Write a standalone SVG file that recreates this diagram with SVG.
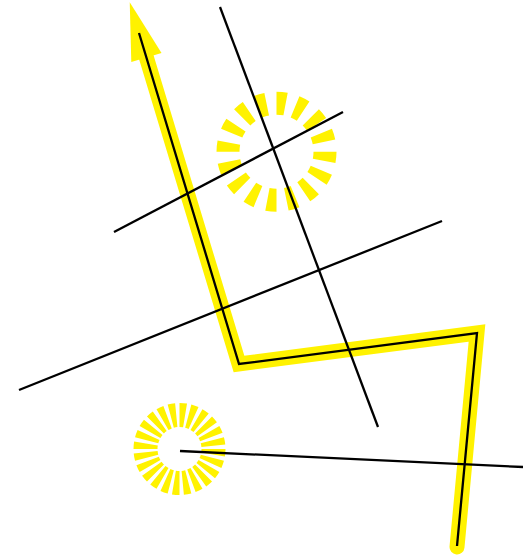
<svg xmlns="http://www.w3.org/2000/svg" width="523" height="555" viewBox="0 0 523 555">
<style>
.hl{fill:none;stroke:#fff200;stroke-width:15;stroke-linecap:round;stroke-linejoin:miter;stroke-miterlimit:10}
.ln{fill:none;stroke:#000;stroke-width:2.3;stroke-linecap:butt}
.ring{fill:none;stroke:#fff200}
</style>
<defs>
<marker id="ah" markerUnits="userSpaceOnUse" markerWidth="60" markerHeight="32" viewBox="-25 -15 56 30" refX="0" refY="0" orient="auto" overflow="visible">
<path d="M-24,-14.8 L30,0 L-24,14.8 Z" fill="#fff200"/>
</marker>
</defs>
<g id="ring1"><circle class="ring" cx="276.5" cy="151.7" r="48.5" stroke-width="23" pathLength="160" stroke-dasharray="4.8 5.2"/></g>
<g id="ring2"><circle class="ring" cx="179.5" cy="449" r="34" stroke-width="24" pathLength="240" stroke-dasharray="6.3 3.7"/></g>
<g id="route">
<polyline class="hl" points="457,547 477,333 239,364 139,33" marker-end="url(#ah)"/>
<polyline class="ln" points="457,546 477,333 239,364 139,33" stroke-linejoin="miter"/>
</g>
<g id="connectors">
<line class="ln" x1="220" y1="7" x2="378" y2="427"/>
<line class="ln" x1="114" y1="232" x2="343" y2="112"/>
<line class="ln" x1="19" y1="390" x2="442" y2="221"/>
<line class="ln" x1="180" y1="451" x2="523" y2="467"/>
</g>
</svg>
